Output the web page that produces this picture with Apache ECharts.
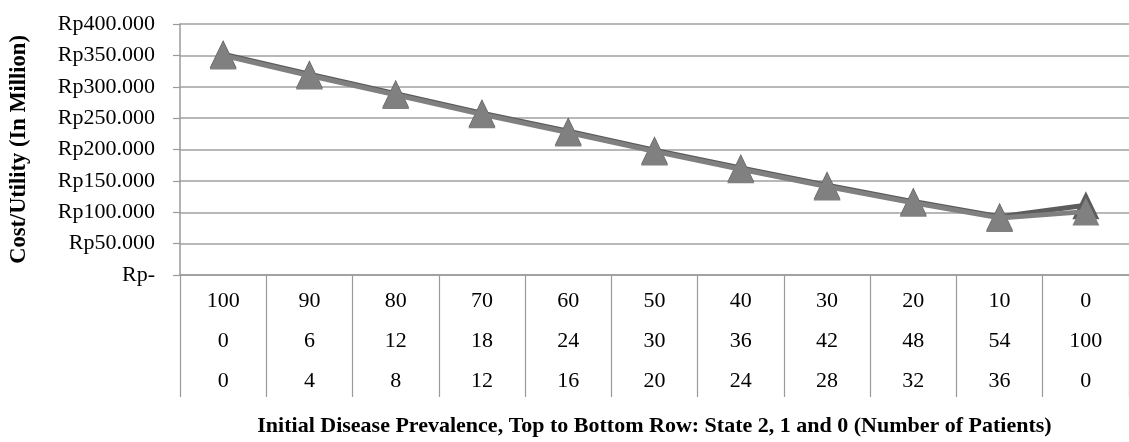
<!DOCTYPE html>
<html>
<head>
<meta charset="utf-8">
<script src="https://cdn.jsdelivr.net/npm/echarts@6/dist/echarts.min.js"></script>
<style>
html,body{margin:0;padding:0;background:#fff;}
#c{width:1129px;height:442px;}
</style>
</head>
<body>
<div id="c"></div>
<script>
const state2 = [100, 90, 80, 70, 60, 50, 40, 30, 20, 10, 0];
const state1 = [0, 6, 12, 18, 24, 30, 36, 42, 48, 54, 100];
const state0 = [0, 4, 8, 12, 16, 20, 24, 28, 32, 36, 0];
const seriesA = [352, 320, 289, 258, 229, 199, 170.5, 143, 117, 93, 111];
const seriesB = [350, 318, 287, 256, 227, 197, 168.5, 141, 115, 91, 101];
const yTicks = [0, 50, 100, 150, 200, 250, 300, 350, 400];
const yTitle = 'Cost/Utility (In Million)';
const xTitle = 'Initial Disease Prevalence, Top to Bottom Row: State 2, 1 and 0 (Number of Patients)';

const categories = state2.map((v, i) => v + '\n' + state1[i] + '\n' + state0[i]);
const font = 'Liberation Serif';

const chart = echarts.init(document.getElementById('c'), null, {renderer: 'canvas'});
chart.setOption({
  animation: false,
  backgroundColor: '#ffffff',
  grid: {left: 172, right: -11, top: 24, bottom: 150, containLabel: false},
  xAxis: {
    type: 'category',
    data: categories,
    boundaryGap: true,
    axisLine: {show: true, lineStyle: {color: '#9a9a9a', width: 1.5}},
    axisTick: {show: true, interval: 0, length: 122, lineStyle: {color: '#9a9a9a', width: 1.2}},
    axisLabel: {interval: 0, margin: 6, fontFamily: font, fontSize: 22, color: '#000', lineHeight: 40},
    name: xTitle,
    nameLocation: 'middle',
    nameGap: 140,
    nameTextStyle: {fontFamily: font, fontSize: 22, fontWeight: 'bold', color: '#000'}
  },
  yAxis: {
    type: 'value',
    min: yTicks[0], max: yTicks[yTicks.length - 1], interval: yTicks[1] - yTicks[0],
    axisLine: {show: true, lineStyle: {color: '#9a9a9a', width: 1.5}},
    axisTick: {show: true, length: 7, lineStyle: {color: '#9a9a9a', width: 1.2}},
    splitLine: {show: true, lineStyle: {color: '#a0a0a0', width: 1.5}},
    axisLabel: {
      margin: 25, fontFamily: font, fontSize: 22, color: '#000',
      formatter: v => v === 0 ? 'Rp-' : 'Rp' + v + '.000'
    },
    name: yTitle,
    nameLocation: 'middle',
    nameGap: 149,
    nameRotate: 90,
    nameTextStyle: {fontFamily: font, fontSize: 22.5, fontWeight: 'bold', color: '#000'}
  },
  series: [
    {
      type: 'line', data: seriesA, z: 2,
      symbol: 'triangle', symbolSize: [27, 28],
      lineStyle: {color: '#5c5c5c', width: 5},
      itemStyle: {color: '#5c5c5c'}
    },
    {
      type: 'line', data: seriesB, z: 3,
      symbol: 'triangle', symbolSize: [27, 28],
      lineStyle: {color: '#808080', width: 5},
      itemStyle: {color: '#808080'}
    }
  ]
});
</script>
</body>
</html>
